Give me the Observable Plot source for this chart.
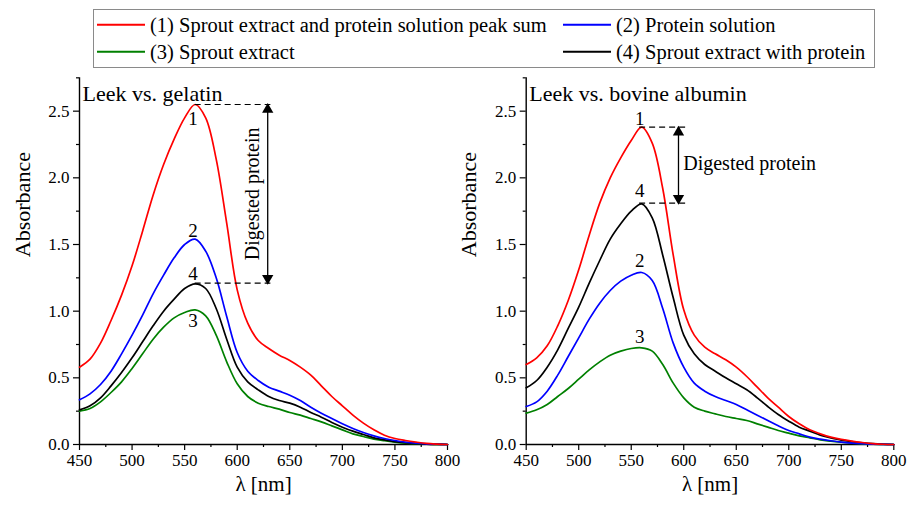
<!DOCTYPE html>
<html><head><meta charset="utf-8">
<script src="https://cdn.jsdelivr.net/npm/d3@7"></script>
<script src="https://cdn.jsdelivr.net/npm/@observablehq/plot@0.6"></script>
<style>
body{margin:0;background:#fff;font-family:"Liberation Serif","DejaVu Serif","Noto Serif","Times New Roman",Times,serif;}
#wrap{position:relative;width:919px;height:505px;overflow:hidden;color:#000}
.panel{position:absolute;top:0;}
#legend{position:absolute;left:93px;top:9px;width:780px;height:57px;border:1px solid #8a8a8a;background:#fff;z-index:2}
.item{position:absolute;font-size:20.5px;line-height:1;white-space:nowrap;display:flex;align-items:center;transform:translateY(-50%)}
.sw{display:inline-block;width:48px;height:2px;margin-right:5px}
svg text{font-family:"Liberation Serif","DejaVu Serif","Noto Serif","Times New Roman",Times,serif !important;}
</style></head>
<body>
<div id="wrap">
  <div id="legend"></div>
  <div id="left" class="panel" style="left:0"></div>
  <div id="right" class="panel" style="left:460px"></div>
</div>
<script>
// wavelengths (nm)
const wl = [450,460,470,480,490,500,510,520,530,540,550,560,570,580,590,600,610,620,630,640,650,660,670,680,690,700,710,720,730,740,750,760,770,780,790,800];

// Leek vs. gelatin
const gelSum     = [0.58,0.64,0.76,0.93,1.12,1.34,1.60,1.87,2.10,2.29,2.45,2.55,2.45,2.14,1.66,1.16,0.91,0.78,0.72,0.67,0.63,0.58,0.52,0.44,0.36,0.29,0.22,0.16,0.11,0.07,0.045,0.03,0.018,0.008,0.003,0.0];
const gelProtein = [0.335,0.38,0.45,0.55,0.68,0.82,0.97,1.13,1.27,1.40,1.50,1.54,1.45,1.25,0.96,0.69,0.55,0.48,0.43,0.40,0.37,0.33,0.28,0.235,0.195,0.155,0.12,0.09,0.065,0.045,0.03,0.018,0.01,0.005,0.002,0.0];
const gelSprout  = [0.25,0.27,0.32,0.39,0.47,0.57,0.68,0.79,0.88,0.95,0.99,1.01,0.965,0.82,0.62,0.455,0.36,0.31,0.285,0.265,0.24,0.22,0.195,0.17,0.14,0.11,0.08,0.06,0.04,0.028,0.018,0.01,0.005,0.002,0.001,0.0];
const gelMix     = [0.26,0.29,0.35,0.44,0.54,0.65,0.77,0.89,1.00,1.09,1.17,1.205,1.17,1.02,0.79,0.58,0.47,0.41,0.36,0.33,0.31,0.28,0.24,0.205,0.165,0.13,0.10,0.075,0.05,0.035,0.022,0.013,0.007,0.003,0.001,0.0];

// Leek vs. bovine albumin
const albSum     = [0.60,0.65,0.74,0.89,1.08,1.31,1.57,1.81,2.00,2.15,2.28,2.38,2.26,1.92,1.42,1.01,0.82,0.73,0.68,0.635,0.58,0.51,0.43,0.35,0.28,0.21,0.155,0.11,0.08,0.055,0.038,0.025,0.015,0.007,0.002,0.0];
const albProtein = [0.285,0.32,0.40,0.52,0.66,0.80,0.94,1.06,1.155,1.225,1.27,1.29,1.23,1.02,0.76,0.58,0.46,0.40,0.36,0.33,0.30,0.26,0.22,0.18,0.14,0.105,0.08,0.055,0.04,0.028,0.018,0.011,0.006,0.003,0.001,0.0];
const albSprout  = [0.235,0.26,0.30,0.36,0.42,0.49,0.56,0.62,0.67,0.70,0.72,0.725,0.70,0.60,0.46,0.35,0.28,0.25,0.23,0.21,0.195,0.18,0.155,0.13,0.105,0.085,0.065,0.05,0.035,0.025,0.017,0.01,0.005,0.002,0.001,0.0];
const albMix     = [0.425,0.48,0.58,0.71,0.87,1.03,1.21,1.38,1.54,1.655,1.75,1.805,1.70,1.42,1.10,0.82,0.68,0.60,0.55,0.50,0.455,0.41,0.35,0.285,0.225,0.175,0.13,0.10,0.07,0.05,0.033,0.022,0.013,0.006,0.002,0.0];

const seriesNames = ["(1) Sprout extract and protein solution peak sum","(2) Protein solution","(3) Sprout extract","(4) Sprout extract with protein"];
const seriesColors = ["#ff0000","#0000ff","#008000","#000000"];

const xTicks = [450,500,550,600,650,700,750,800];
const xMinor = [475,525,575,625,675,725,775];
const yTicks = [0,0.5,1.0,1.5,2.0,2.5];
const yMinor = [0.25,0.75,1.25,1.75,2.25,2.75];

// curve number labels [wavelength, absorbance, label]
const gelLabels = [[558,2.445,"1"],[558,1.60,"2"],[558,0.925,"3"],[558,1.28,"4"]];
const albLabels = [[558,2.44,"1"],[558,1.375,"2"],[558,0.81,"3"],[558,1.90,"4"]];
// digested protein annotation: [peak x, dash end x, arrow x, top y, bottom y]
const gelAnn = [560,632,629,2.55,1.21];
const albAnn = [558,602,595,2.38,1.81];

const FONT = '"Liberation Serif","DejaVu Serif","Noto Serif","Times New Roman",Times,serif';

function rowsOf(arr){ return wl.map((w,i)=>({wl:w, v:arr[i]})); }

function panel(opts){
  const {title, series, labels, ann, mLeft, mRight, width, titleDy, digRot, digPos} = opts;
  const [px, dx2, ax, yt, yb] = ann;
  const marks = [
    Plot.ruleY([0], {x1:450, x2:800, stroke:"#000", strokeWidth:1.4}),
    Plot.ruleX([450], {y1:0, y2:2.75, stroke:"#000", strokeWidth:1.4}),
    Plot.axisX({ticks:xTicks, tickSize:6, tickPadding:3, tickFormat:d=>String(d), label:null, fontSize:17, strokeWidth:1.2}),
    Plot.axisX({ticks:xMinor, tickSize:3, tickFormat:()=>"", label:null, strokeWidth:1.2}),
    Plot.axisY({ticks:yTicks, tickSize:6, tickPadding:4, tickFormat:d=>d.toFixed(1), label:null, fontSize:17, strokeWidth:1.2}),
    Plot.axisY({ticks:yMinor, tickSize:3, tickFormat:()=>"", label:null, strokeWidth:1.2}),
  ];
  const order = [2,3,1,0];
  for (const k of order){
    marks.push(Plot.line(rowsOf(series[k]), {x:"wl", y:"v", stroke:seriesColors[k], strokeWidth:1.7, curve:"catmull-rom"}));
  }
  marks.push(
    Plot.ruleY([yt, yb], {x1:px, x2:dx2, stroke:"#000", strokeWidth:1.2, strokeDasharray:"6,4"}),
    Plot.ruleX([ax], {y1:yb, y2:yt, stroke:"#000", strokeWidth:1.3}),
    Plot.dot([{x:ax,y:yt}], {x:"x", y:"y", symbol:"triangle", r:4.2, fill:"#000", stroke:null, dy:5}),
    Plot.dot([{x:ax,y:yb}], {x:"x", y:"y", symbol:"triangle", r:4.2, fill:"#000", stroke:null, dy:-5, rotate:180}),
    Plot.text(labels, {x:d=>d[0], y:d=>d[1], text:d=>d[2], fontSize:19, fill:"#000"}),
    Plot.text(["Digested protein"], {x:()=>digPos[0], y:()=>digPos[1], rotate:digRot, textAnchor:digRot? "middle":"start", fontSize:20, fill:"#000"}),
    Plot.text([title], {frameAnchor:"top-left", dx:3, dy:titleDy, textAnchor:"start", fontSize:22, fill:"#000"}),
    Plot.text(["Absorbance"], {frameAnchor:"left", dx:-57, dy:-4, rotate:-90, fontSize:22, fill:"#000"}),
    Plot.text(["λ [nm]"], {frameAnchor:"bottom", dy:46, fontSize:21, fill:"#000"})
  );
  return Plot.plot({
    width, height:505,
    marginLeft:mLeft, marginRight:mRight, marginTop:77.33, marginBottom:61,
    x:{domain:[450,800]}, y:{domain:[0,2.75]},
    style:{fontFamily:FONT, background:"transparent", color:"#000", overflow:"visible"},
    marks
  });
}

document.getElementById("left").appendChild(panel({
  title:"Leek vs. gelatin", series:[gelSum,gelProtein,gelSprout,gelMix], labels:gelLabels, ann:gelAnn,
  mLeft:79, mRight:13, width:460, titleDy:8, digRot:-90, digPos:[614.5,1.88]
}));
document.getElementById("right").appendChild(panel({
  title:"Leek vs. bovine albumin", series:[albSum,albProtein,albSprout,albMix], labels:albLabels, ann:albAnn,
  mLeft:65.7, mRight:25.7, width:459, titleDy:8, digRot:0, digPos:[599.5,2.11]
}));

// legend
const legend = document.getElementById("legend");
const pos = [[3,15],[469,15],[3,42],[469,42]];
seriesNames.forEach((name,i)=>{
  const it = document.createElement("div");
  it.className="item";
  it.style.left = pos[i][0]+"px";
  it.style.top = pos[i][1]+"px";
  const sw = document.createElement("span");
  sw.className="sw"; sw.style.background = seriesColors[i];
  it.appendChild(sw);
  it.appendChild(document.createTextNode(name));
  legend.appendChild(it);
});
</script>
</body></html>
